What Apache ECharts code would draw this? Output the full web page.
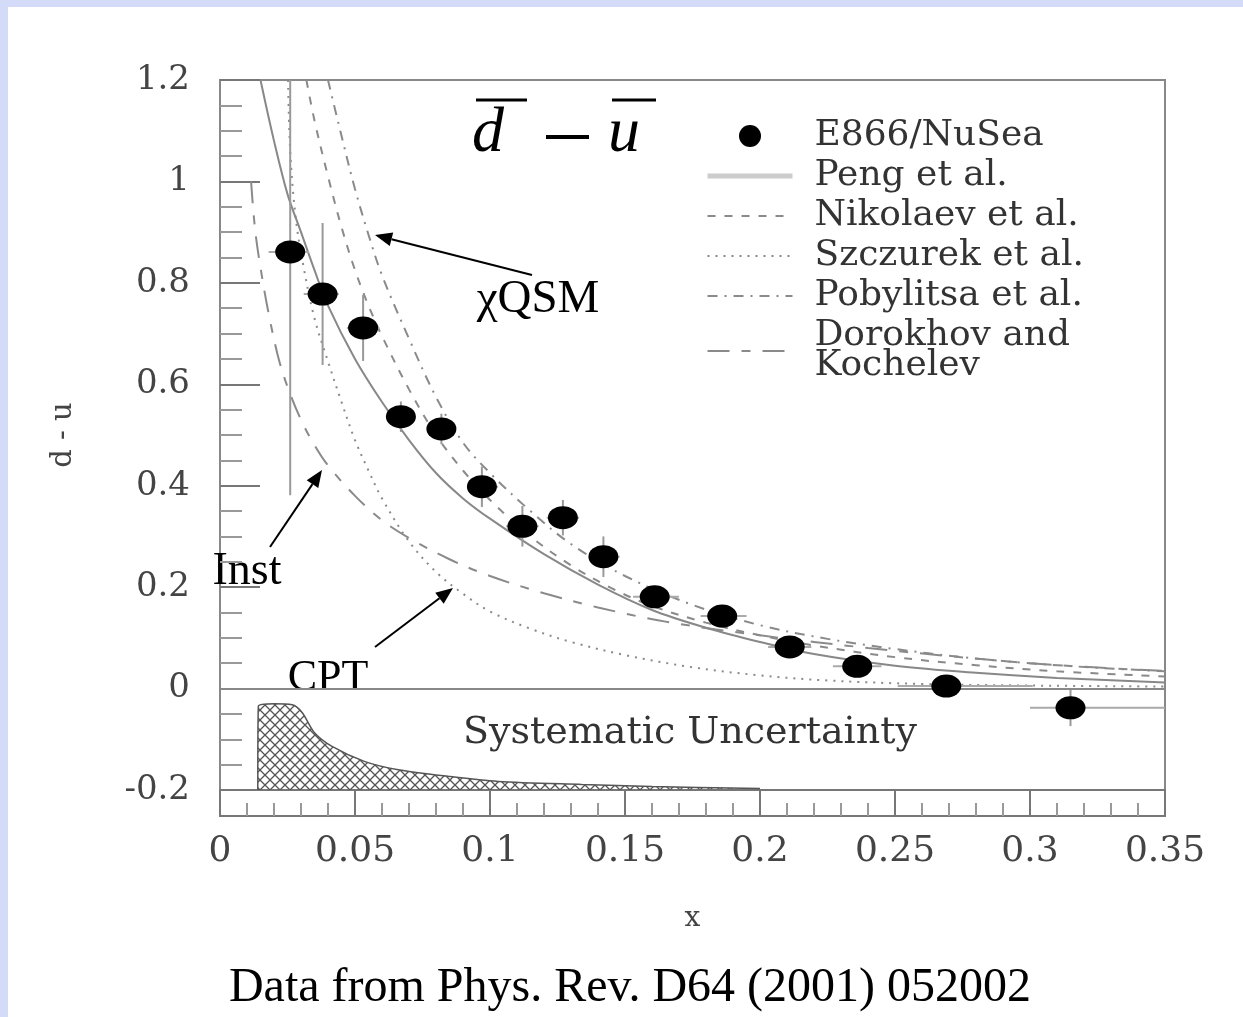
<!DOCTYPE html>
<html lang="en">
<head>
<meta charset="UTF-8">
<title>d-bar minus u-bar</title>
<style>
  html, body { margin: 0; padding: 0; background: #fff; }
  #box { position: absolute; left: 0; top: 0; width: 1243px; height: 1017px; }
  .edgeTop { position: absolute; left: 0; top: 0; width: 1243px; height: 7px; background: #d3dbf9; }
  .edgeLeft { position: absolute; left: 0; top: 0; width: 8px; height: 1017px; background: #d3dbf9; }
</style>
</head>
<body>
<div id="box"></div>
<div class="edgeTop"></div>
<div class="edgeLeft"></div>
<script src="https://cdn.jsdelivr.net/npm/echarts@6.0.0/dist/echarts.min.js"></script>
<script>
// E866/NuSea points
var xPts = [0.026, 0.038, 0.053, 0.067, 0.082, 0.097, 0.112, 0.127, 0.142, 0.161, 0.186, 0.211, 0.236, 0.269, 0.315];
var yPts = [0.861, 0.778, 0.711, 0.536, 0.512, 0.398, 0.320, 0.337, 0.260, 0.181, 0.143, 0.082, 0.044, 0.005, -0.038];
var yErr = [0.48, 0.14, 0.065, 0.03, 0.03, 0.04, 0.04, 0.035, 0.04, 0.02, 0.02, 0.02, 0.02, 0.02, 0.036];
var xLo = [0.018, 0.031, 0.047, 0.062, 0.077, 0.092, 0.106, 0.121, 0.137, 0.153, 0.178, 0.203, 0.227, 0.251, 0.300];
var xHi = [0.033, 0.044, 0.059, 0.072, 0.087, 0.103, 0.118, 0.133, 0.148, 0.170, 0.195, 0.219, 0.245, 0.301, 0.350];

// model curves
var pengX = [0.015, 0.020, 0.025, 0.030, 0.035, 0.040, 0.050, 0.060, 0.070, 0.080, 0.090, 0.100, 0.120, 0.140, 0.160, 0.180, 0.200, 0.220, 0.250, 0.280, 0.310, 0.350];
var pengY = [1.20, 1.08, 0.975, 0.90, 0.825, 0.755, 0.65, 0.565, 0.49, 0.425, 0.375, 0.335, 0.265, 0.205, 0.155, 0.12, 0.092, 0.068, 0.045, 0.031, 0.021, 0.012];

var nikX = [0.032, 0.035, 0.040, 0.045, 0.050, 0.055, 0.060, 0.070, 0.080, 0.090, 0.100, 0.115, 0.130, 0.145, 0.160, 0.180, 0.200, 0.220, 0.250, 0.280, 0.310, 0.350];
var nikY = [1.20, 1.12, 1.01, 0.91, 0.825, 0.755, 0.695, 0.59, 0.50, 0.43, 0.372, 0.30, 0.243, 0.198, 0.163, 0.13, 0.105, 0.085, 0.062, 0.046, 0.034, 0.024];

var szcX = [0.0252, 0.026, 0.028, 0.031, 0.035, 0.040, 0.045, 0.050, 0.055, 0.060, 0.070, 0.080, 0.090, 0.100, 0.115, 0.130, 0.150, 0.175, 0.200, 0.225, 0.260, 0.300, 0.350];
var szcY = [1.20, 1.06, 0.93, 0.83, 0.73, 0.645, 0.565, 0.49, 0.43, 0.375, 0.29, 0.23, 0.187, 0.152, 0.118, 0.092, 0.066, 0.042, 0.026, 0.016, 0.009, 0.006, 0.004];

var pobX = [0.040, 0.045, 0.050, 0.055, 0.060, 0.070, 0.080, 0.090, 0.100, 0.115, 0.130, 0.150, 0.175, 0.200, 0.225, 0.250, 0.275, 0.300, 0.325, 0.350];
var pobY = [1.20, 1.09, 0.985, 0.895, 0.815, 0.69, 0.575, 0.485, 0.425, 0.35, 0.285, 0.222, 0.165, 0.125, 0.098, 0.078, 0.062, 0.05, 0.041, 0.034];

var dorX = [0.0115, 0.013, 0.015, 0.018, 0.0215, 0.025, 0.030, 0.035, 0.040, 0.050, 0.060, 0.070, 0.085, 0.100, 0.120, 0.140, 0.165, 0.200, 0.240, 0.270, 0.300, 0.330, 0.350];
var dorY = [1.00, 0.905, 0.83, 0.74, 0.655, 0.595, 0.53, 0.48, 0.44, 0.38, 0.332, 0.297, 0.255, 0.222, 0.188, 0.16, 0.132, 0.105, 0.08, 0.064, 0.05, 0.04, 0.035];

// systematic uncertainty band (top edge, filled down to -0.2)
var sysX = [0.014, 0.0142, 0.02, 0.0267, 0.0304, 0.035, 0.0415, 0.0537, 0.066, 0.0844, 0.103, 0.134, 0.16, 0.2];
var sysY = [-0.2, -0.035, -0.03, -0.032, -0.047, -0.087, -0.114, -0.144, -0.16, -0.173, -0.183, -0.189, -0.193, -0.197];

function pairs(xs, ys) {
	return xs.map(function (x, i) { return [x, ys[i]]; });
}

// cross hatch for the band
var hatch = document.createElement('canvas');
hatch.width = 10;
hatch.height = 10;
var hc = hatch.getContext('2d');
hc.strokeStyle = '#555';
hc.lineWidth = 1.3;
hc.beginPath();
hc.moveTo(0, 0); hc.lineTo(10, 10);
hc.moveTo(10, 0); hc.lineTo(0, 10);
hc.stroke();

function arrow(x1, y1, x2, y2) {
	var a = Math.atan2(y2 - y1, x2 - x1), L = 17, W = 7;
	var bx = x2 - L * Math.cos(a), by = y2 - L * Math.sin(a);
	return [
		{ type: 'line', shape: { x1: x1, y1: y1, x2: bx, y2: by }, style: { stroke: '#000', lineWidth: 2 } },
		{ type: 'polygon', shape: { points: [[x2, y2], [bx + W * Math.sin(a), by - W * Math.cos(a)], [bx - W * Math.sin(a), by + W * Math.cos(a)]] }, style: { fill: '#000' } }
	];
}

var serif = 'Liberation Serif';
var plotFont = 'DejaVu Serif';
var curveGray = '#8a8a8a';
var noDot = { opacity: 0 };

var errData = xPts.map(function (x, i) { return [x, yPts[i], yErr[i], xLo[i], xHi[i]]; });

function curve(name, xs, ys, style) {
	return { name: name, type: 'line', data: pairs(xs, ys), symbol: 'none', smooth: 0.35,
		itemStyle: { color: curveGray, opacity: 0 }, lineStyle: style, z: 3 };
}

var myChart = echarts.init(document.getElementById('box'));

var option = {
	animation: false,
	backgroundColor: '#fff',
	grid: [
		{ left: 220, right: 78, top: 80, bottom: 227, show: true, borderColor: '#888', borderWidth: 2, outerBoundsMode: 'none' },
		{ left: 220, right: 78, top: 790, height: 26, show: true, borderColor: '#777', borderWidth: 2, outerBoundsMode: 'none' }
	],
	xAxis: [
		{ gridIndex: 0, type: 'value', min: 0, max: 0.35, interval: 0.05,
		  axisLine: { show: false }, axisTick: { show: false }, axisLabel: { show: false }, splitLine: { show: false } },
		{ gridIndex: 1, type: 'value', min: 0, max: 0.35, interval: 0.05,
		  name: 'x', nameLocation: 'middle', nameGap: 89,
		  nameTextStyle: { fontFamily: plotFont, fontSize: 28, color: '#444' },
		  axisLine: { show: false },
		  axisTick: { inside: true, length: 26, lineStyle: { color: '#777', width: 2 } },
		  minorTick: { show: true, splitNumber: 5, length: 13, lineStyle: { color: '#999', width: 2 } },
		  axisLabel: { margin: 18, fontFamily: plotFont, fontSize: 36, color: '#444' },
		  splitLine: { show: false } }
	],
	yAxis: [
		{ gridIndex: 0, type: 'value', min: -0.2, max: 1.2, interval: 0.2,
		  name: 'd - u', nameLocation: 'middle', nameGap: 142,
		  nameTextStyle: { fontFamily: plotFont, fontSize: 29, color: '#444' },
		  axisLine: { show: false },
		  axisTick: { inside: true, length: 40, lineStyle: { color: '#777', width: 2 } },
		  minorTick: { show: true, splitNumber: 4, length: 22, lineStyle: { color: '#999', width: 2 } },
		  axisLabel: { margin: 30, fontFamily: plotFont, fontSize: 34, color: '#444' },
		  splitLine: { show: false } },
		{ gridIndex: 1, type: 'value', min: 0, max: 1, show: false }
	],
	legend: {
		orient: 'vertical', left: 705, top: 118, padding: 0,
		itemWidth: 85, itemHeight: 22, itemGap: 4,
		textStyle: { fontFamily: plotFont, fontSize: 36, color: '#333', lineHeight: 30, padding: [0, 0, 0, 17] },
		data: [
			{ name: 'E866/NuSea', itemStyle: { color: '#000', opacity: 1 } },
			{ name: 'Peng et al.', itemStyle: noDot, lineStyle: { color: '#ccc', width: 5 } },
			{ name: 'Nikolaev et al.', itemStyle: noDot },
			{ name: 'Szczurek et al.', itemStyle: noDot },
			{ name: 'Pobylitsa et al.', itemStyle: noDot },
			{ name: 'Dorokhov and\nKochelev', itemStyle: noDot }
		]
	},
	graphic: [
		{ type: 'text', x: 472, y: 166, style: { text: 'd', fontFamily: serif, fontStyle: 'italic', fontSize: 64, fill: '#000', verticalAlign: 'bottom' } },
		{ type: 'line', shape: { x1: 476, y1: 100, x2: 527, y2: 100 }, style: { stroke: '#000', lineWidth: 3 } },
		{ type: 'line', shape: { x1: 546, y1: 137, x2: 589, y2: 137 }, style: { stroke: '#000', lineWidth: 4 } },
		{ type: 'text', x: 608, y: 166, style: { text: 'u', fontFamily: serif, fontStyle: 'italic', fontSize: 64, fill: '#000', verticalAlign: 'bottom' } },
		{ type: 'line', shape: { x1: 612, y1: 100, x2: 656, y2: 100 }, style: { stroke: '#000', lineWidth: 3 } },
		{ type: 'text', x: 538, y: 300, style: { text: 'χQSM', fontFamily: serif, fontSize: 47, fill: '#000', align: 'center', verticalAlign: 'middle' } },
		{ type: 'text', x: 247, y: 572, style: { text: 'Inst', fontFamily: serif, fontSize: 46, fill: '#000', align: 'center', verticalAlign: 'middle' } },
		{ type: 'text', x: 328, y: 678, style: { text: 'CPT', fontFamily: serif, fontSize: 44, fill: '#000', align: 'center', verticalAlign: 'middle' } },
		{ type: 'text', x: 690, y: 733, style: { text: 'Systematic Uncertainty', fontFamily: plotFont, fontSize: 38, fill: '#333', align: 'center', verticalAlign: 'middle' } },
		{ type: 'text', x: 630, y: 988, style: { text: 'Data from Phys. Rev. D64 (2001) 052002', fontFamily: serif, fontSize: 48, fill: '#000', align: 'center', verticalAlign: 'middle' } },
		{ type: 'group', children: arrow(532, 275, 375, 235) },
		{ type: 'group', children: arrow(270, 547, 322, 470) },
		{ type: 'group', children: arrow(375, 647, 453, 588) }
	],
	series: [
		{ name: 'Systematic', type: 'line', xAxisIndex: 0, yAxisIndex: 0, data: pairs(sysX, sysY),
		  symbol: 'none', smooth: 0.3, lineStyle: { color: '#555', width: 1.5 },
		  areaStyle: { origin: 'start', color: { image: hatch, repeat: 'repeat' }, opacity: 1 }, z: 1 },
		curve('Peng et al.', pengX, pengY, { color: '#888', width: 2 }),
		curve('Nikolaev et al.', nikX, nikY, { color: curveGray, width: 2, type: [8, 9] }),
		curve('Szczurek et al.', szcX, szcY, { color: curveGray, width: 2, type: [2, 6] }),
		curve('Pobylitsa et al.', pobX, pobY, { color: curveGray, width: 2, type: [10, 7, 2, 7] }),
		curve('Dorokhov and\nKochelev', dorX, dorY, { color: curveGray, width: 2, type: [22, 12, 9, 12] }),
		{ name: 'errors', type: 'custom', data: errData, encode: { x: 0, y: 1 }, clip: true, z: 4,
		  renderItem: function (params, api) {
			var x = api.value(0), y = api.value(1), e = api.value(2);
			var top = api.coord([x, y + e]), bot = api.coord([x, y - e]);
			var l = api.coord([api.value(3), y]), r = api.coord([api.value(4), y]);
			return { type: 'group', children: [
				{ type: 'line', shape: { x1: top[0], y1: top[1], x2: bot[0], y2: bot[1] }, style: { stroke: '#999', lineWidth: 2 } },
				{ type: 'line', shape: { x1: l[0], y1: l[1], x2: r[0], y2: r[1] }, style: { stroke: '#aaa', lineWidth: 2 } }
			] };
		  } },
		{ name: 'E866/NuSea', type: 'scatter', data: pairs(xPts, yPts), symbol: 'circle', symbolSize: [30, 23],
		  itemStyle: { color: '#000', opacity: 1 }, z: 5,
		  markLine: { silent: true, symbol: 'none', label: { show: false },
			lineStyle: { color: '#888', type: 'solid', width: 2 }, data: [{ yAxis: 0 }] } }
	]
};

myChart.setOption(option);
</script>
</body>
</html>
